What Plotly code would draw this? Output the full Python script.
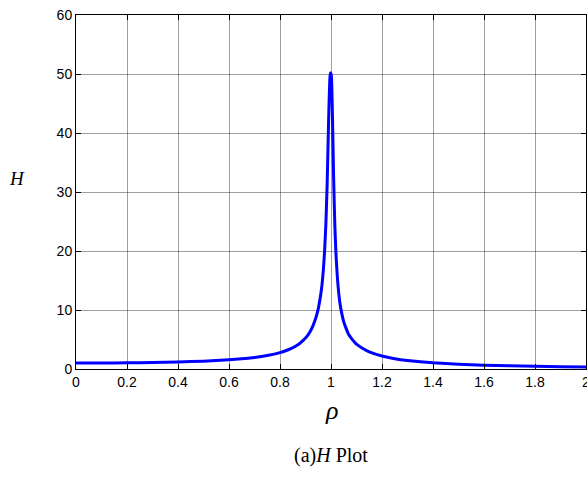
import plotly.graph_objects as go

rho = [0, 0.1, 0.2, 0.3, 0.4, 0.5, 0.6, 0.65, 0.7, 0.75, 0.8, 0.83, 0.85, 0.87, 0.88, 0.9,
       0.91, 0.92, 0.93, 0.94, 0.95, 0.96, 0.965, 0.97, 0.975, 0.98, 0.985, 0.99, 0.993,
       0.996, 0.998, 1.0, 1.002, 1.005, 1.01, 1.015, 1.02, 1.025, 1.03, 1.035, 1.04, 1.05,
       1.06, 1.07, 1.08, 1.1, 1.12, 1.15, 1.2, 1.25, 1.3, 1.4, 1.5, 1.6, 1.7, 1.8, 1.9, 2.0]
H = [1.0, 1.01, 1.04, 1.10, 1.19, 1.33, 1.56, 1.73, 1.96, 2.29, 2.78, 3.22, 3.6, 4.1, 4.43, 5.26,
     5.8, 6.5, 7.4, 8.6, 10.2, 12.7, 14.4, 16.8, 20.1, 24.7, 31.5, 41.0, 46.0,
     49.5, 50.2, 50.0, 49.3, 44.5, 33.0, 24.3, 19.1, 15.5, 13.0, 11.2, 9.9, 8.0,
     6.8, 5.8, 5.2, 4.2, 3.6, 2.9, 2.2, 1.75, 1.45, 1.04, 0.8, 0.64, 0.53, 0.45, 0.38, 0.33]

x_ticks = [0, 0.2, 0.4, 0.6, 0.8, 1, 1.2, 1.4, 1.6, 1.8, 2]
x_tick_labels = ["0", "0.2", "0.4", "0.6", "0.8", "1", "1.2", "1.4", "1.6", "1.8", "2"]
y_ticks = [0, 10, 20, 30, 40, 50, 60]

fig = go.Figure()
fig.add_trace(go.Scatter(x=rho, y=H, mode="lines",
                         line=dict(color="#0000ff", width=3, shape="spline", smoothing=0.4),
                         showlegend=False))

axis_common = dict(showline=True, linecolor="black", linewidth=1, mirror="ticks",
                   ticks="inside", ticklen=5, tickcolor="black",
                   showgrid=True, gridcolor="rgba(0,0,0,0.38)", gridwidth=1,
                   zeroline=False, automargin=False, ticklabeloverflow="allow",
                   tickfont=dict(family="Arial, Liberation Sans", size=14, color="black"))

fig.update_xaxes(range=[0, 2], tickvals=x_ticks, ticktext=x_tick_labels, **axis_common)
fig.update_yaxes(range=[0, 60], tickvals=y_ticks, **axis_common)

L, R, T, B = 76, 1, 15, 110
W, Ht = 587, 479
pw = W - L - R
ph = Ht - T - B

fig.update_layout(
    width=W, height=Ht,
    margin=dict(l=L, r=R, t=T, b=B, autoexpand=False),
    plot_bgcolor="white", paper_bgcolor="white",
    annotations=[
        dict(text="<i>H</i>", x=(17 - L) / pw, y=(369 - 178) / ph, xref="paper", yref="paper",
             showarrow=False, xanchor="center", yanchor="middle",
             font=dict(family="Liberation Serif, Times New Roman", size=19, color="black")),
        dict(text="<i>ρ</i>", x=1.0, y=(369 - 410) / ph, xref="x", yref="paper",
             showarrow=False, yanchor="middle",
             font=dict(family="Liberation Serif, Times New Roman", size=26, color="black")),
        dict(text="(a)<i>H</i> Plot", x=1.0, y=(369 - 455) / ph, xref="x", yref="paper",
             showarrow=False, yanchor="middle",
             font=dict(family="Liberation Serif, Times New Roman", size=20, color="black")),
    ],
)

fig.write_html("out.html", config={"displayModeBar": False},
               post_script="document.body.style.margin='0';document.body.style.padding='0';")
